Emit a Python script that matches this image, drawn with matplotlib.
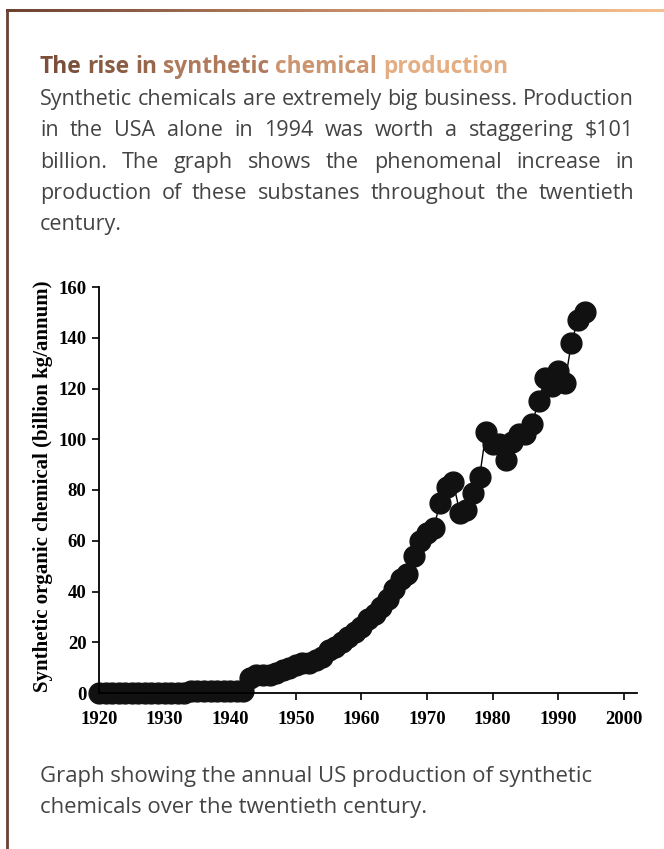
import numpy as np
import matplotlib
matplotlib.use("Agg")
import matplotlib.pyplot as plt
from matplotlib.colors import LinearSegmentedColormap

# Annual US production of synthetic organic chemicals (billion kg/annum)
years = list(range(1920, 1995))
production = [0, 0, 0, 0, 0, 0, 0, 0, 0, 0,
              0, 0, 0, 0, 0.8, 0.8, 0.8, 0.8, 0.8, 0.8,
              0.8, 0.8, 0.8, 6, 7, 7, 7, 8, 9, 10,
              11, 12, 12, 13, 14, 17, 18, 20, 22, 24,
              26, 29, 31, 34, 37, 41, 45, 47, 54, 60,
              63, 65, 75, 81, 83, 71, 72, 79, 85, 103,
              98, 98, 92, 99, 102, 102, 106, 115, 124, 121,
              127, 122, 138, 147, 150]

x_ticks = [1920, 1930, 1940, 1950, 1960, 1970, 1980, 1990, 2000]
y_ticks = [0, 20, 40, 60, 80, 100, 120, 140, 160]

title = "The rise in synthetic chemical production"
body_lines = [
    "Synthetic chemicals are extremely big business. Production",
    "in the USA alone in 1994 was worth a staggering $101",
    "billion. The graph shows the phenomenal increase in",
    "production of these substanes throughout the twentieth",
    "century.",
]
caption_lines = [
    "Graph showing the annual US production of synthetic",
    "chemicals over the twentieth century.",
]
y_label = "Synthetic organic chemical (billion kg/annum)"

W, H = 664, 849
fig = plt.figure(figsize=(W / 100, H / 100), dpi=100)
page = fig.add_axes([0, 0, 1, 1])
page.set_xlim(0, W)
page.set_ylim(H, 0)
page.axis("off")
renderer = fig.canvas.get_renderer()

brown = "#6b4230"
peach = "#f7c08f"
grad = LinearSegmentedColormap.from_list("frame", [brown, "#c28a67", peach])

# frame: gradient rule on top, brown rule down the left
page.imshow(np.linspace(0, 1, 256).reshape(1, -1), cmap=grad, aspect="auto",
            extent=(6, W, 11.5, 8.5), zorder=1)
page.plot([7, 7], [9, H], color=brown, lw=2, solid_capstyle="butt")
page.set_xlim(0, W)
page.set_ylim(H, 0)


def width_of(s, **kw):
    t = page.text(0, 0, s, **kw)
    w = t.get_window_extent(renderer).width
    t.remove()
    return w


sans = ["Open Sans", "DejaVu Sans"]
# size the running text so the tight first line fills the column, like the reference
probe = width_of(body_lines[0], family=sans, fontsize=10)
body_size = 10 * 592 / probe
text_kw = dict(family=sans, color="#444444", fontsize=body_size)
probe = width_of(caption_lines[0], family=sans, fontsize=10)
cap_kw = dict(family=sans, color="#444444", fontsize=10 * 553 / probe)

# title, coloured word by word along the gradient
probe = width_of(title, family=sans, fontsize=10, weight="bold")
title_kw = dict(family=sans, fontsize=10 * 470 / probe, weight="bold")
words = title.split()
space = width_of("a a", **title_kw) - width_of("aa", **title_kw)
widths = [width_of(w, **title_kw) for w in words]
total = sum(widths) + space * (len(words) - 1)
x = 40
for w, ww in zip(words, widths):
    frac = (x + ww / 2 - 40) / total
    page.text(x, 73, w, color=grad(0.05 + 0.9 * frac), ha="left", va="baseline", **title_kw)
    x += ww + space

# justified body text
left, right = 40, 634
for i, line in enumerate(body_lines):
    base = 105 + i * 31.3
    words = line.split()
    if i == len(body_lines) - 1:
        page.text(left, base, line, ha="left", va="baseline", **text_kw)
        continue
    widths = [width_of(w, **text_kw) for w in words]
    gap = (right - left - sum(widths)) / (len(words) - 1)
    x = left
    for w, ww in zip(words, widths):
        page.text(x, base, w, ha="left", va="baseline", **text_kw)
        x += ww + gap

for i, line in enumerate(caption_lines):
    page.text(left, 782 + i * 31.3, line, ha="left", va="baseline", **cap_kw)

# the graph
serif = ["Liberation Serif", "DejaVu Serif"]
ax = fig.add_axes([99 / W, 1 - 693 / H, 538 / W, 406 / H])
ax.patch.set_visible(False)
ax.plot(years, production, color="black", lw=1, marker="o", markersize=15,
        markerfacecolor="#111111", markeredgecolor="#111111", clip_on=False)
ax.set_xlim(1920, 2002)
ax.set_ylim(0, 160)
ax.set_xticks(x_ticks)
ax.set_yticks(y_ticks)
for s in ["top", "right"]:
    ax.spines[s].set_visible(False)
for s in ["left", "bottom"]:
    ax.spines[s].set_linewidth(1.3)
ax.tick_params(length=5, width=1.2, pad=4, labelsize=13.5)
for lab in ax.get_xticklabels() + ax.get_yticklabels():
    lab.set_family(serif)
    lab.set_fontweight("bold")
ax.tick_params(axis="x", pad=8)

page.text(43, 486, y_label, rotation=90, ha="center", va="center",
          family=serif, weight="bold", fontsize=15)

fig.savefig("out.png", dpi=100)
